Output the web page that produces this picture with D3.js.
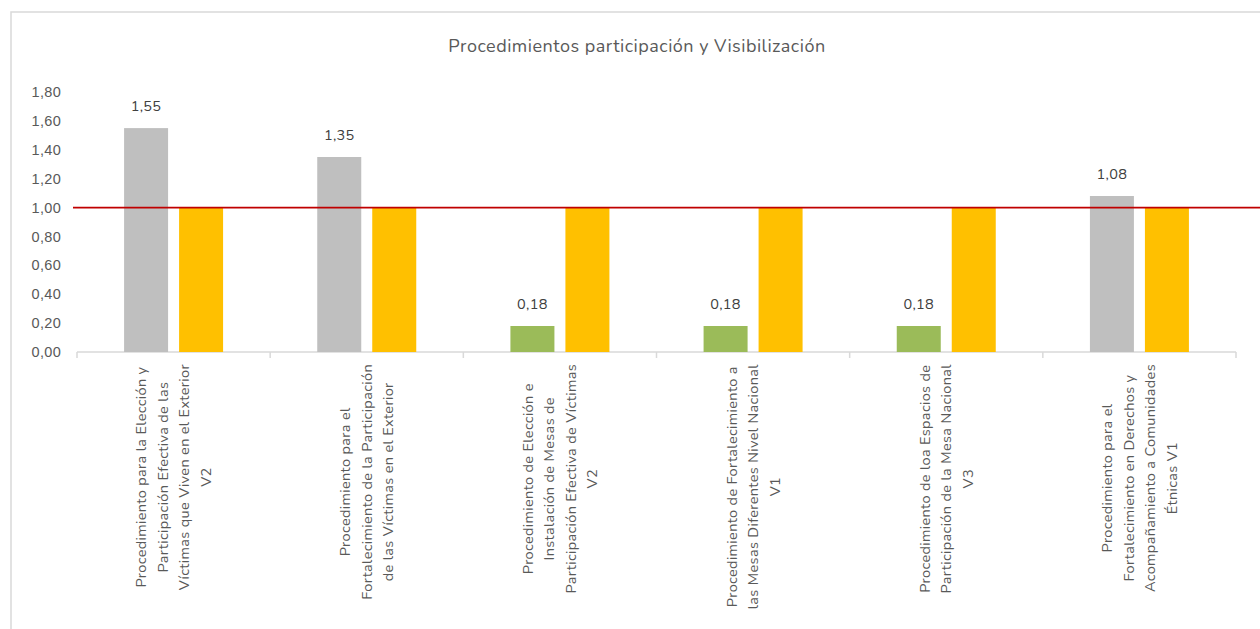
<!DOCTYPE html>
<html>
<head>
    <script src="https://d3js.org/d3.v7.min.js"></script>
    <style>
        body { margin: 0; background: #fff; font-family: "Nunito", "Open Sans", sans-serif; }
        svg { display: block; }
        .tick text { fill: #595959; font-size: 14.5px; letter-spacing: 0.3px; }
    </style>
</head>
<body>
    <svg width="1260" height="629"></svg>
    <script>
        // Datos
        let categories = [
            ["Procedimiento para la Elección y", "Participación Efectiva de las", "Víctimas que Viven en el Exterior", "V2"],
            ["Procedimiento para el", "Fortalecimiento de la Participación", "de las Víctimas en el Exterior"],
            ["Procedimiento de Elección e", "Instalación de Mesas de", "Participación Efectiva de Víctimas", "V2"],
            ["Procedimiento de Fortalecimiento a", "las Mesas Diferentes Nivel Nacional", "V1"],
            ["Procedimiento de loa Espacios de", "Participación de la Mesa Nacional", "V3"],
            ["Procedimiento para el", "Fortalecimiento en Derechos y", "Acompañamiento a Comunidades", "Étnicas V1"]
        ];
        let resultValues = [1.55, 1.35, 0.18, 0.18, 0.18, 1.08];
        let resultColors = ["#bfbfbf", "#bfbfbf", "#9bbb59", "#9bbb59", "#9bbb59", "#bfbfbf"];
        let goalValues = [1, 1, 1, 1, 1, 1];
        let yTicks = [0, 0.2, 0.4, 0.6, 0.8, 1.0, 1.2, 1.4, 1.6, 1.8];
        let threshold = 1.0;

        let svg = d3.select("svg");
        let plotLeft = 77, plotRight = 1236, plotTop = 92, plotBottom = 352;

        // marco del grafico
        svg.append("rect")
            .attr("x", 11).attr("y", 12)
            .attr("width", 1300).attr("height", 700)
            .attr("fill", "none")
            .attr("stroke", "#d9d9d9")
            .attr("stroke-width", 1.5);

        svg.append("text")
            .attr("x", 637).attr("y", 52)
            .attr("text-anchor", "middle")
            .attr("fill", "#595959")
            .style("font-size", "18px")
            .style("letter-spacing", "0.5px")
            .text("Procedimientos participación y Visibilización");

        let x = d3.scaleBand()
            .domain(d3.range(categories.length))
            .range([plotLeft, plotRight]);

        let y = d3.scaleLinear()
            .domain([0, 1.8])
            .range([plotBottom, plotTop]);

        // eje y sin linea
        let yAxis = svg.append("g")
            .attr("transform", "translate(" + (plotLeft - 16) + ",0)")
            .call(d3.axisLeft(y).tickValues(yTicks).tickSize(0).tickPadding(0)
                .tickFormat(d => d3.format(".2f")(d).replace(".", ",")));
        yAxis.select(".domain").remove();

        // eje x
        svg.append("line")
            .attr("x1", plotLeft).attr("x2", plotRight)
            .attr("y1", plotBottom).attr("y2", plotBottom)
            .attr("stroke", "#d9d9d9").attr("stroke-width", 1.5);
        svg.selectAll(".xtick")
            .data(d3.range(categories.length + 1))
            .enter().append("line")
            .attr("x1", d => plotLeft + d * x.step())
            .attr("x2", d => plotLeft + d * x.step())
            .attr("y1", plotBottom).attr("y2", plotBottom + 6)
            .attr("stroke", "#d9d9d9").attr("stroke-width", 1.5);

        let barW = 44, gap = 11;

        svg.selectAll(".result")
            .data(resultValues)
            .enter().append("rect")
            .attr("x", (d, i) => x(i) + x.bandwidth() / 2 - gap / 2 - barW)
            .attr("y", d => y(d))
            .attr("width", barW)
            .attr("height", d => y(0) - y(d))
            .attr("fill", (d, i) => resultColors[i]);

        svg.selectAll(".goal")
            .data(goalValues)
            .enter().append("rect")
            .attr("x", (d, i) => x(i) + x.bandwidth() / 2 + gap / 2)
            .attr("y", d => y(d))
            .attr("width", barW)
            .attr("height", d => y(0) - y(d))
            .attr("fill", "#ffc000");

        svg.selectAll(".label")
            .data(resultValues)
            .enter().append("text")
            .attr("x", (d, i) => x(i) + x.bandwidth() / 2 - gap / 2 - barW / 2)
            .attr("y", d => y(d) - 17)
            .attr("text-anchor", "middle")
            .attr("fill", "#404040")
            .style("font-size", "14.5px")
            .style("letter-spacing", "0.3px")
            .text(d => d3.format(".2f")(d).replace(".", ","));

        // linea meta
        svg.append("line")
            .attr("x1", 73).attr("x2", 1260)
            .attr("y1", y(threshold)).attr("y2", y(threshold))
            .attr("stroke", "#c00000").attr("stroke-width", 1.8);

        // etiquetas de categorias rotadas
        let lineH = 21.5;
        categories.forEach((lines, i) => {
            let cx = x(i) + x.bandwidth() / 2;
            let g = svg.append("g")
                .attr("transform", "translate(" + cx + "," + (plotBottom + 12) + ") rotate(-90)");
            let texts = g.selectAll("text")
                .data(lines)
                .enter().append("text")
                .attr("text-anchor", "middle")
                .attr("fill", "#595959")
                .style("font-size", "14.5px")
                .style("letter-spacing", "0.35px")
                .attr("y", (d, j) => (j - (lines.length - 1) / 2) * lineH + 5)
                .text(d => d);
            let maxLen = d3.max(texts.nodes(), n => n.getComputedTextLength());
            texts.attr("x", -maxLen / 2);
        });
    </script>
</body>
</html>
